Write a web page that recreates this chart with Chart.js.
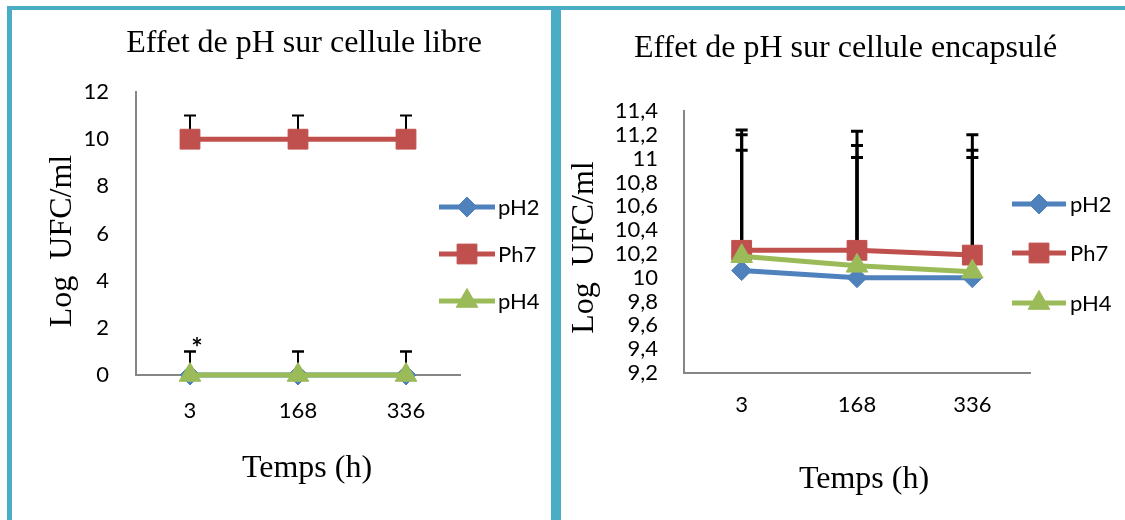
<!DOCTYPE html>
<html><head><meta charset="utf-8">
<script src="https://cdn.jsdelivr.net/npm/chart.js@4/dist/chart.umd.min.js"></script>
<style>
html,body{margin:0;padding:0;background:#fff;width:1125px;height:520px;overflow:hidden;position:relative}
.bar{position:absolute;background:#4BACC6}
canvas{position:absolute}
</style></head><body>
<div class="bar" style="left:7px;top:6px;width:1118px;height:4px"></div>
<div class="bar" style="left:7px;top:6px;width:5px;height:514px"></div>
<div class="bar" style="left:551px;top:6px;width:10px;height:514px"></div>
<canvas id="c1" width="539" height="510" style="left:12px;top:10px"></canvas>
<canvas id="c2" width="563" height="510" style="left:562px;top:10px"></canvas>
<script>
// ---- data ----
const categories = ['3', '168', '336'];
const seriesNames = ['pH2', 'Ph7', 'pH4'];

// Effet de pH sur cellule libre
const libre_pH2 = [0, 0, 0];
const libre_Ph7 = [10, 10, 10];
const libre_pH4 = [0, 0, 0];
const libre_err_pH2 = [1, 1, 1];
const libre_err_Ph7 = [1, 1, 1];
const libre_err_pH4 = [1, 1, 1];
const libreYTicks = [0, 2, 4, 6, 8, 10, 12];
const libreYTickLabels = ['0', '2', '4', '6', '8', '10', '12'];

// Effet de pH sur cellule encapsulé
const encap_pH2 = [10.06, 10.00, 10.00];
const encap_Ph7 = [10.23, 10.23, 10.19];
const encap_pH4 = [10.18, 10.10, 10.05];
const encap_err_pH2 = [1.01, 1.01, 1.01];
const encap_err_Ph7 = [1.01, 1.00, 1.01];
const encap_err_pH4 = [1.02, 1.01, 1.02];
const encapYTicks = [9.2, 9.4, 9.6, 9.8, 10, 10.2, 10.4, 10.6, 10.8, 11, 11.2, 11.4];
const encapYTickLabels = ['9,2', '9,4', '9,6', '9,8', '10', '10,2', '10,4', '10,6', '10,8', '11', '11,2', '11,4'];

// ---- styles ----
const COLORS = { pH2: '#4F81BD', Ph7: '#C0504D', pH4: '#9BBB59' };
const MARKERS = {
  pH2: { pointStyle: 'rectRot', radius: 10, order: 3 },
  Ph7: { pointStyle: 'rect', radius: 14, order: 2 },
  pH4: { pointStyle: 'triangle', radius: 12.5, order: 1 }
};
const SERIF = '"Liberation Serif", "Times New Roman", serif';
const SANS = 'Lato, "Open Sans", sans-serif';
const SANS_SIZE = 22;

function makeDataset(name, data, errors) {
  return {
    label: name, data: data, errors: errors, order: MARKERS[name].order,
    borderColor: COLORS[name], backgroundColor: COLORS[name],
    pointBackgroundColor: COLORS[name], pointBorderColor: COLORS[name],
    borderWidth: 5, pointBorderWidth: 1,
    pointStyle: MARKERS[name].pointStyle, pointRadius: MARKERS[name].radius,
    pointHoverRadius: MARKERS[name].radius,
    tension: 0, clip: false, fill: false
  };
}

const deco = {
  id: 'deco',
  beforeDatasetsDraw(chart, args, o) {
    const ctx = chart.ctx, ys = chart.scales.y;
    ctx.save();
    ctx.strokeStyle = '#000';
    ctx.lineWidth = o.errWidth;
    chart.data.datasets.forEach((d, i) => {
      const meta = chart.getDatasetMeta(i);
      d.data.forEach((v, j) => {
        const p = meta.data[j];
        const y0 = ys.getPixelForValue(v);
        const y1 = ys.getPixelForValue(v + d.errors[j]);
        ctx.beginPath();
        ctx.moveTo(p.x, y0); ctx.lineTo(p.x, y1);
        ctx.moveTo(p.x - o.capW / 2, y1); ctx.lineTo(p.x + o.capW / 2, y1);
        ctx.stroke();
      });
    });
    ctx.restore();
  },
  afterDraw(chart, args, o) {
    const ctx = chart.ctx;
    ctx.save();
    ctx.fillStyle = '#000';
    ctx.font = '32px ' + SERIF;
    ctx.textAlign = 'center';
    ctx.textBaseline = 'alphabetic';
    ctx.fillText(o.title.text, o.title.x, o.title.y);
    ctx.fillText(o.xTitle.text, o.xTitle.x, o.xTitle.y);
    ctx.save();
    ctx.translate(o.yTitle.x, o.yTitle.y);
    ctx.rotate(-Math.PI / 2);
    ctx.fillText(o.yTitle.text, 0, 0);
    ctx.restore();
    // legend
    chart.data.datasets.forEach((d, i) => {
      const y = o.legend.ys[i];
      ctx.strokeStyle = d.borderColor;
      ctx.lineWidth = d.borderWidth;
      ctx.beginPath();
      ctx.moveTo(o.legend.x0, y); ctx.lineTo(o.legend.x1, y);
      ctx.stroke();
      ctx.fillStyle = d.pointBackgroundColor;
      ctx.strokeStyle = d.pointBorderColor;
      ctx.lineWidth = d.pointBorderWidth;
      Chart.helpers.drawPoint(ctx, { pointStyle: d.pointStyle, radius: d.pointRadius, rotation: 0, borderWidth: d.pointBorderWidth }, (o.legend.x0 + o.legend.x1) / 2, y);
      ctx.fillStyle = '#000';
      ctx.font = SANS_SIZE + 'px ' + SANS;
      ctx.textAlign = 'left';
      ctx.fillText(d.label, o.legend.tx, y + 8);
    });
    if (o.star) {
      ctx.fillStyle = '#000';
      ctx.font = 'bold 27px ' + SANS;
      ctx.textAlign = 'center';
      ctx.fillText('*', o.star.x, o.star.y);
    }
    ctx.restore();
  }
};

function labelFor(ticks, labels) {
  return function (value) {
    const i = ticks.findIndex(t => Math.abs(t - value) < 1e-9);
    return i >= 0 ? labels[i] : '';
  };
}

function makeChart(id, cfg) {
  return new Chart(document.getElementById(id), {
    type: 'line',
    data: { labels: categories, datasets: cfg.datasets },
    plugins: [deco],
    options: {
      responsive: false, animation: false, events: [],
      layout: { padding: cfg.padding },
      plugins: { legend: { display: false }, title: { display: false }, tooltip: { enabled: false }, deco: cfg.deco },
      scales: {
        x: {
          type: 'category', offset: true,
          afterFit: s => { s.height = cfg.xHeight; },
          grid: { display: false, drawTicks: false },
          border: { display: true, color: '#868686', width: 2 },
          ticks: { padding: cfg.xPad, color: '#000', font: { family: SANS, size: SANS_SIZE } }
        },
        y: {
          min: cfg.yTicks[0], max: cfg.yTicks[cfg.yTicks.length - 1],
          afterBuildTicks: s => { s.ticks = cfg.yTicks.map(v => ({ value: v })); },
          afterFit: s => { s.width = cfg.yWidth; },
          grid: { display: false, drawTicks: false },
          border: { display: true, color: '#868686', width: 2 },
          ticks: { padding: cfg.yPad, autoSkip: false, color: '#000', font: { family: SANS, size: SANS_SIZE }, callback: labelFor(cfg.yTicks, cfg.yLabels) }
        }
      }
    }
  });
}

function build() {
  Chart.defaults.font.family = SANS;
  makeChart('c1', {
    datasets: [
      makeDataset('pH2', libre_pH2, libre_err_pH2),
      makeDataset('Ph7', libre_Ph7, libre_err_Ph7),
      makeDataset('pH4', libre_pH4, libre_err_pH4)
    ],
    padding: { left: 0, top: 82, right: 91, bottom: 0 },
    xHeight: 145, yWidth: 124, xPad: 23, yPad: 27,
    yTicks: libreYTicks, yLabels: libreYTickLabels,
    deco: {
      errWidth: 2, capW: 12,
      title: { text: 'Effet de pH sur cellule libre', x: 292, y: 42 },
      xTitle: { text: 'Temps (h)', x: 295, y: 467 },
      yTitle: { text: 'Log  UFC/ml', x: 58.5, y: 231 },
      legend: { x0: 427, x1: 483, tx: 486, ys: [197, 244, 291] },
      star: { x: 185, y: 347 }
    }
  });
  makeChart('c2', {
    datasets: [
      makeDataset('pH2', encap_pH2, encap_err_pH2),
      makeDataset('Ph7', encap_Ph7, encap_err_Ph7),
      makeDataset('pH4', encap_pH4, encap_err_pH4)
    ],
    padding: { left: 0, top: 101, right: 95, bottom: 0 },
    xHeight: 147, yWidth: 122, xPad: 19, yPad: 26,
    yTicks: encapYTicks, yLabels: encapYTickLabels,
    deco: {
      errWidth: 3, capW: 12,
      title: { text: 'Effet de pH sur cellule encapsulé', x: 283.5, y: 47 },
      xTitle: { text: 'Temps (h)', x: 302, y: 478 },
      yTitle: { text: 'Log  UFC/ml', x: 31, y: 237.5 },
      legend: { x0: 450, x1: 504, tx: 508, ys: [194, 243, 293] },
      star: null
    }
  });
}

const fontLoads = document.fonts ? Promise.all([
  document.fonts.load('32px "Liberation Serif"'),
  document.fonts.load('22px Lato'),
  document.fonts.load('bold 27px Lato')
]).catch(() => null) : Promise.resolve();
fontLoads.then(build, build);
</script>
</body></html>
